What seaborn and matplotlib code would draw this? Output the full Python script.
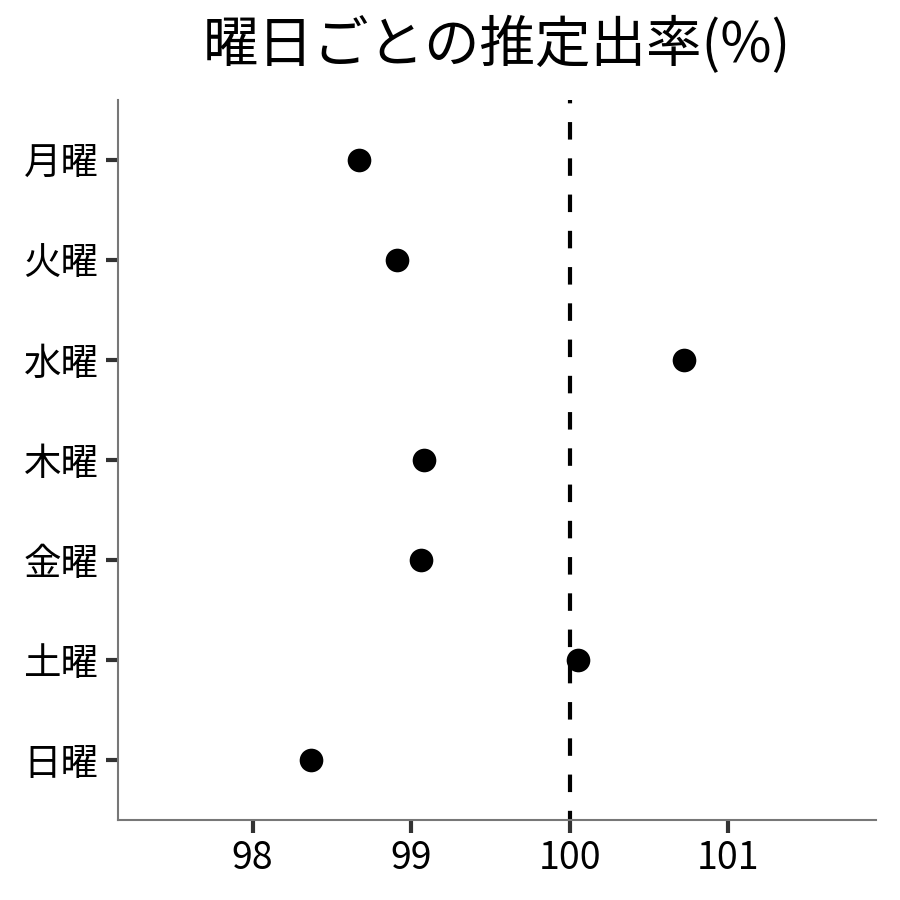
import matplotlib
matplotlib.use("Agg")
import matplotlib.pyplot as plt
import pandas as pd
import seaborn as sns

# 曜日ごとの推定出率
days = ["月曜", "火曜", "水曜", "木曜", "金曜", "土曜", "日曜"]
rates = [98.67, 98.91, 100.72, 99.08, 99.06, 100.05, 98.37]
xticks = [98, 99, 100, 101]

df = pd.DataFrame({"day": days, "rate": rates})

sns.set_theme(style="white")
plt.rcParams["font.family"] = ["Noto Sans CJK JP", "DejaVu Sans"]

fig, ax = plt.subplots(figsize=(9, 9), dpi=100)
sns.scatterplot(data=df, x="rate", y="day", color="black", s=290,
                edgecolor="black", linewidth=0, ax=ax, zorder=3)
ax.axvline(100, color="black", linestyle=(2, (4.2, 4.5)), linewidth=3, zorder=2)

ax.set_xlim(97.15, 101.93)
ax.set_ylim(6.6, -0.6)
ax.set_xticks(xticks)
ax.set_xticklabels([str(t) for t in xticks])
ax.set_xlabel("")
ax.set_ylabel("")
ax.set_title("曜日ごとの推定出率(%)", fontsize=40, pad=27, color="black")

for side in ["top", "right"]:
    ax.spines[side].set_visible(False)
for side in ["left", "bottom"]:
    ax.spines[side].set_color("#777777")
    ax.spines[side].set_linewidth(1.5)
ax.tick_params(axis="both", which="major", length=9, width=3, color="#333333",
               labelsize=27, labelcolor="black", pad=5, bottom=True, left=True)

fig.subplots_adjust(left=0.131, right=0.973, top=0.889, bottom=0.089)
fig.savefig("out.png", dpi=100, facecolor="white")
